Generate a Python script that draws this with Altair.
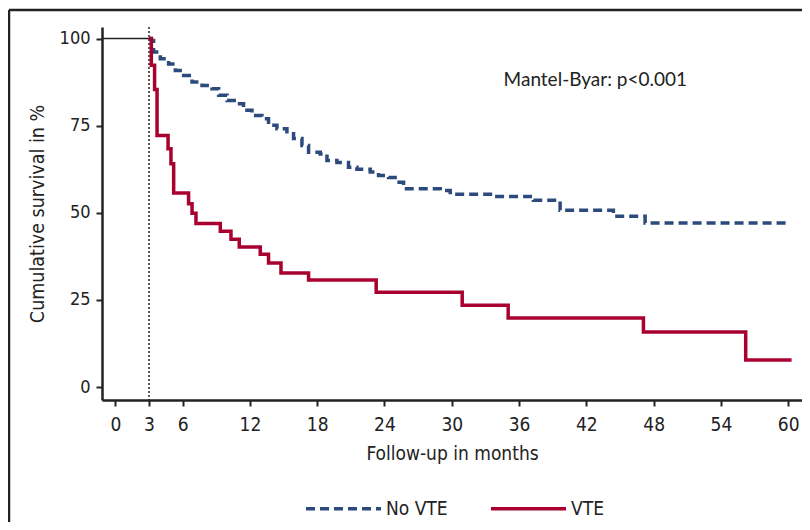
import altair as alt
import pandas as pd

# ---- data ----
novte_months = [3.0, 3.21, 3.41, 4.01, 4.75, 5.35, 6.09, 6.84, 7.73, 8.62, 9.21, 9.96,
                10.85, 11.43, 12.18, 13.07, 13.66, 14.41, 15.30, 15.89, 16.64, 17.23,
                18.27, 18.87, 19.76, 20.79, 21.54, 22.73, 23.47, 24.36, 25.11, 25.70,
                28.97, 29.86, 33.72, 37.28, 39.66, 44.41, 47.24, 60.0]
novte_surv = [100, 99.4, 96.1, 94.2, 92.7, 90.8, 89.4, 87.5, 86.5, 85.6, 83.7, 82.2,
              81.3, 79.4, 77.9, 77.0, 75.1, 74.1, 72.7, 71.3, 69.3, 67.4,
              66.9, 65.0, 64.4, 63.1, 62.5, 61.7, 60.7, 60.1, 58.8, 56.9,
              56.4, 55.3, 54.7, 53.6, 50.7, 49.0, 47.1, 47.1]

vte_months = [3.0, 3.21, 3.50, 3.72, 4.70, 4.96, 5.20, 6.53, 6.84, 7.19, 9.36, 10.31,
              11.05, 12.92, 13.66, 14.77, 17.23, 23.26, 30.93, 35.03, 47.09, 56.21, 60.3]
vte_surv = [100, 92.3, 85.4, 72.2, 68.4, 64.1, 55.7, 52.6, 49.9, 46.9, 44.7, 42.4,
            40.2, 38.1, 35.6, 32.7, 30.7, 27.2, 23.5, 19.8, 15.8, 7.8, 7.8]

lead_months = [-1.19, 3.0]
lead_surv = [100, 100]

landmark_month = [3]

groups = ["No VTE", "VTE"]
group_colors = ["#2c4a7c", "#a8002f"]
group_dashes = [[9, 5], [1, 0]]

x_ticks = [0, 3, 6, 12, 18, 24, 30, 36, 42, 48, 54, 60]
y_ticks = [0, 25, 50, 75, 100]
x_domain = [-1.19, 61.23]
y_domain = [-3.7, 103.3]

annot_text = ["Mantel-Byar: p<0.001"]
annot_x = [42.8]
annot_y = [88.0]

# ---- tables ----
curves = pd.concat([
    pd.DataFrame({"month": novte_months, "surv": novte_surv, "group": groups[0], "order": range(len(novte_months))}),
    pd.DataFrame({"month": vte_months, "surv": vte_surv, "group": groups[1], "order": range(len(vte_months))}),
])
lead = pd.DataFrame({"month": lead_months, "surv": lead_surv})
landmark = pd.DataFrame({"month": landmark_month})
annot = pd.DataFrame({"text": annot_text, "month": annot_x, "surv": annot_y})

LABEL_FONT = "Liberation Sans Narrow, DejaVu Sans Condensed, Lato, sans-serif"

x_scale = alt.Scale(domain=x_domain, nice=False, zero=False)
y_scale = alt.Scale(domain=y_domain, nice=False, zero=False)

x_axis = alt.Axis(values=x_ticks, title="Follow-up in months", titleFontSize=19,
                  titleFontWeight="normal", titlePadding=10, labelFontSize=19,
                  labelPadding=9, labelFlush=False)
y_axis = alt.Axis(values=y_ticks, title="Cumulative survival in %", titleFontSize=19.5,
                  titleFontWeight="normal", titlePadding=12, labelFontSize=18,
                  labelPadding=6)

base_x = alt.X("month:Q", scale=x_scale, axis=x_axis)
base_y = alt.Y("surv:Q", scale=y_scale, axis=y_axis)

legend_cfg = dict(title=None, orient="none", direction="horizontal",
                  legendX=202, legendY=442, symbolType="stroke",
                  symbolSize=5625, symbolStrokeWidth=3.5,
                  labelFontSize=19, labelOffset=3, columnPadding=36,
                  labelFont=LABEL_FONT, labelColor="#222")

lines = alt.Chart(curves).mark_line(interpolate="step-after", strokeWidth=3.5).encode(
    x=base_x,
    y=base_y,
    order="order:Q",
    color=alt.Color("group:N", scale=alt.Scale(domain=groups, range=group_colors),
                    legend=alt.Legend(**legend_cfg)),
    strokeDash=alt.StrokeDash("group:N", scale=alt.Scale(domain=groups, range=group_dashes),
                              legend=alt.Legend(**legend_cfg)),
)

lead_line = alt.Chart(lead).mark_line(color="#222", strokeWidth=1.5).encode(
    x=alt.X("month:Q", scale=x_scale), y=alt.Y("surv:Q", scale=y_scale))

rule = alt.Chart(landmark).mark_rule(color="#222", strokeWidth=1.5, strokeDash=[2, 2]).encode(
    x=alt.X("month:Q", scale=x_scale))

text = alt.Chart(annot).mark_text(fontSize=19, font="Lato", color="#222", align="center",
                                  baseline="middle").encode(
    x=alt.X("month:Q", scale=x_scale), y=alt.Y("surv:Q", scale=y_scale), text="text:N")

frame_top = alt.Chart(landmark).mark_rule(color="#222", strokeWidth=2.5).encode(
    x=alt.value(-93), x2=alt.value(700), y=alt.value(-17))
frame_left = alt.Chart(landmark).mark_rule(color="#222", strokeWidth=2.5).encode(
    x=alt.value(-93), y=alt.value(-17), y2=alt.value(495))

chart = alt.layer(frame_top, frame_left, lead_line, rule, lines, text).properties(
    width=700, height=373,
    autosize=alt.AutoSizeParams(type="none"),
    padding={"left": 94, "top": 19, "right": 0, "bottom": 122},
).configure_view(stroke=None).configure_axis(
    domainColor="#222", domainWidth=2.5, tickColor="#222", tickWidth=2, tickSize=6,
    grid=False, labelColor="#222", titleColor="#222", labelFont=LABEL_FONT,
    titleFont=LABEL_FONT,
)

chart.save("out.html", embed_options={"renderer": "svg", "actions": False})
